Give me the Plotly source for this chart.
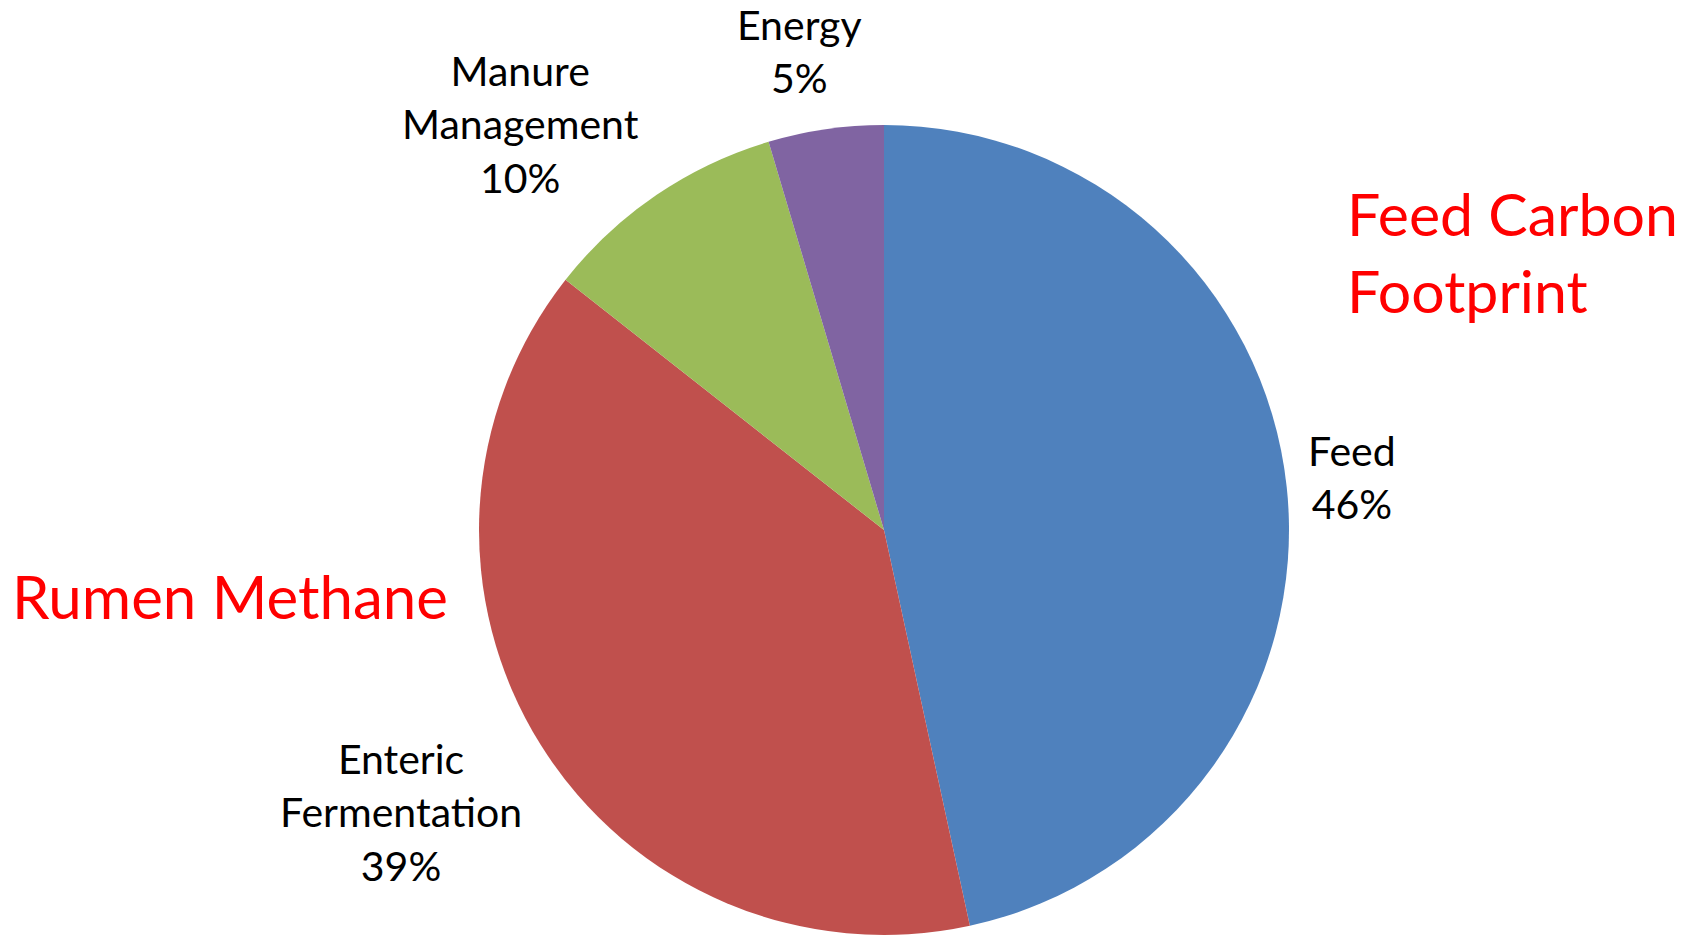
import plotly.graph_objects as go

# Data
categories = ["Feed", "Enteric<br>Fermentation", "Manure<br>Management", "Energy"]
values = [46.6, 39.0, 9.8, 4.6]
pct_labels = ["46%", "39%", "10%", "5%"]
colors = ["#4F81BD", "#C0504D", "#9BBB59", "#8064A2"]

W, H = 1683, 944

fig = go.Figure(go.Pie(
    labels=categories,
    values=values,
    sort=False,
    direction="clockwise",
    rotation=0,
    marker=dict(colors=colors, line=dict(width=0)),
    textinfo="none",
    hoverinfo="label+percent",
    showlegend=False,
    domain=dict(x=[479 / W, 1289 / W], y=[(414 - 405) / H, (414 + 405) / H]),
))

# label positions (pixel centres of text blocks)
label_pos = [(1352, 477), (401, 812), (520, 124), (799, 51)]
font_lbl = dict(family="Lato, Carlito, sans-serif", size=41, color="#000000")
for cat, pct, (px, py) in zip(categories, pct_labels, label_pos):
    fig.add_annotation(
        x=px / W, y=1 - py / H, xref="paper", yref="paper",
        text=f"{cat}<br>{pct}", showarrow=False,
        xanchor="center", yanchor="middle", align="center",
        font=font_lbl, borderpad=0,
    )

fig.add_annotation(
    x=1345 / W, y=1 - 252 / H, xref="paper", yref="paper",
    text="Feed Carbon<br>Footprint", showarrow=False,
    xanchor="left", yanchor="middle", align="left",
    font=dict(family="Lato, Carlito, sans-serif", size=59, color="#FF0000"),
)
fig.add_annotation(
    x=10 / W, y=1 - 596 / H, xref="paper", yref="paper",
    text="Rumen Methane", showarrow=False,
    xanchor="left", yanchor="middle", align="left",
    font=dict(family="Lato, Carlito, sans-serif", size=60, color="#FF0000"),
)

fig.update_layout(
    width=W, height=H,
    margin=dict(l=0, r=0, t=0, b=0),
    paper_bgcolor="white", plot_bgcolor="white",
)

fig.write_html("out.html")
